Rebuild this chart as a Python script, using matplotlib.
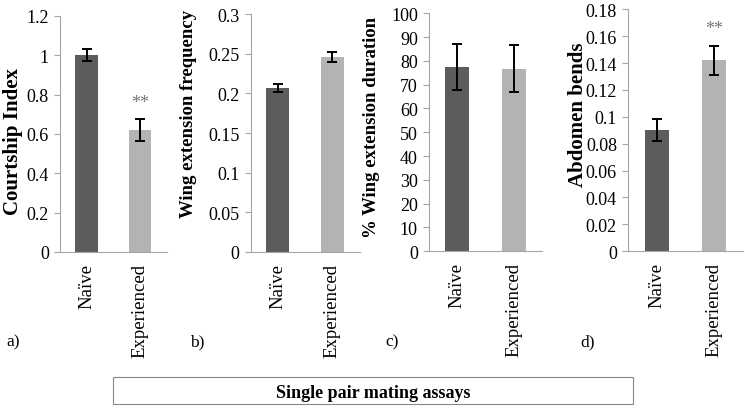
import matplotlib
matplotlib.use("Agg")
import matplotlib.pyplot as plt
from matplotlib.patches import Rectangle

plt.rcParams['font.family'] = ['Liberation Serif', 'DejaVu Serif']

groups = ["Naïve", "Experienced"]
colors = ["#5c5c5c", "#b3b3b3"]

courtship = [1.0, 0.62]
courtship_err = [0.03, 0.055]
wing_freq = [0.207, 0.246]
wing_freq_err = [0.005, 0.006]
wing_dur = [77.5, 76.8]
wing_dur_err = [9.8, 10.0]
abdomen = [0.090, 0.142]
abdomen_err = [0.008, 0.011]

panels = [
    # values, errors, ylabel, ymax, step, star, letter, axes rect, label x, label y, label size, letter x
    (courtship, courtship_err, "Courtship Index", 1.2, 0.2, True, "a)",
     [0.0805, 0.383, 0.1436, 0.5756], 0.018, 0.654, 15, 0.008),
    (wing_freq, wing_freq_err, "Wing extension frequency", 0.3, 0.05, False, "b)",
     [0.3365, 0.383, 0.1463, 0.580], 0.253, 0.722, 13.5, 0.255),
    (wing_dur, wing_dur_err, "% Wing extension duration", 100, 10, False, "c)",
     [0.5758, 0.385, 0.1517, 0.580], 0.499, 0.690, 13.5, 0.517),
    (abdomen, abdomen_err, "Abdomen bends", 0.18, 0.02, True, "d)",
     [0.843, 0.385, 0.154, 0.590], 0.776, 0.720, 15, 0.779),
]

fig = plt.figure(figsize=(7.45, 4.1), dpi=100)

for vals, errs, ylab, ymax, step, star, letter, rect, lx, ly, lsize, tx in panels:
    ax = fig.add_axes(rect)
    x = [0, 1]
    ax.bar(x, vals, width=0.42, color=colors)
    ax.errorbar(x, vals, yerr=errs, fmt="none", ecolor="black",
                elinewidth=1.4, capsize=3.5, capthick=1.4)
    if star:
        ax.text(1, vals[1] + errs[1] + ymax * 0.035, "**", ha="center",
                va="bottom", fontsize=13, color="#777777")
    ax.set_xlim(-0.5, 1.5)
    ax.set_ylim(0, ymax)
    ticks = [i * step for i in range(int(round(ymax / step)) + 1)]
    ax.set_yticks(ticks)
    ax.set_yticklabels(["{:g}".format(round(t, 4)) for t in ticks])
    ax.set_xticks(x)
    ax.set_xticklabels(groups, rotation=90)
    for s in ["top", "right"]:
        ax.spines[s].set_visible(False)
    for s in ["left", "bottom"]:
        ax.spines[s].set_color("#a6a6a6")
    ax.tick_params(axis="y", length=4, color="#a6a6a6", labelsize=13, pad=4)
    ax.tick_params(axis="x", length=0, labelsize=13.5, pad=8)
    fig.text(lx, ly, ylab, rotation=90, ha="center",
             va="center", fontsize=lsize, fontweight="bold")
    fig.text(tx, 0.165, letter, fontsize=12.5, ha="left", va="center")

fig.patches.append(Rectangle((0.152, 0.012), 0.698, 0.066, transform=fig.transFigure,
                             fill=False, edgecolor="#888888", linewidth=0.8))
fig.text(0.501, 0.04, "Single pair mating assays", ha="center", va="center",
         fontsize=13, fontweight="bold")

fig.savefig("out.png", dpi=100)
